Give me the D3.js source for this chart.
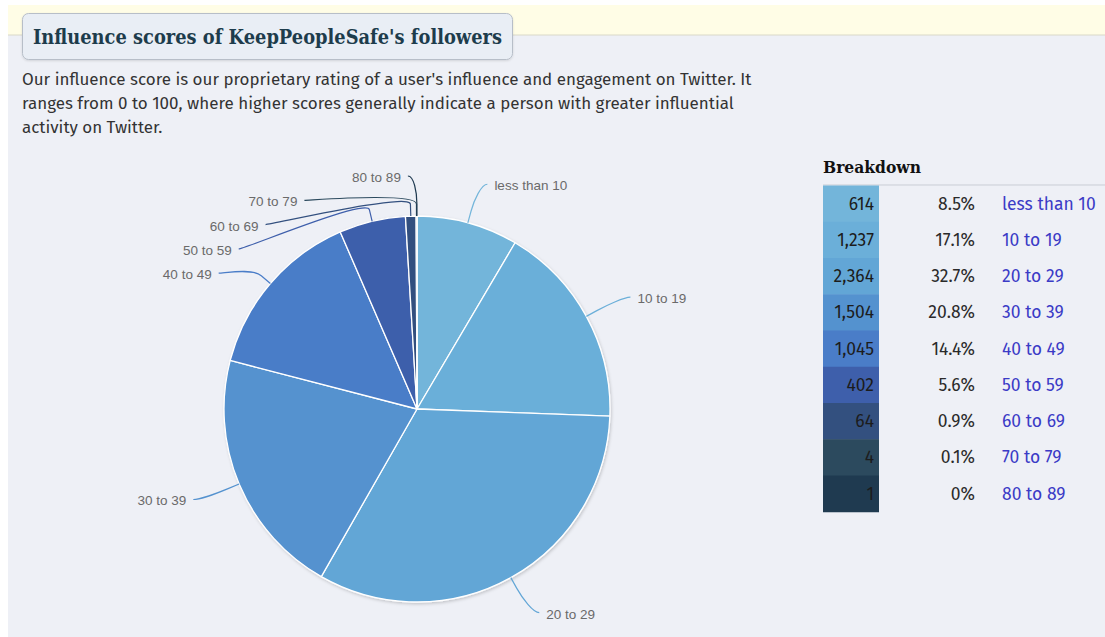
<!DOCTYPE html>
<html>
<head>
<meta charset="utf-8">
<script src="https://cdn.jsdelivr.net/npm/d3@7"></script>
<style>
  html, body { margin: 0; padding: 0; background: #ffffff; }
  svg { display: block; }
</style>
</head>
<body>
<svg id="chart" width="1105" height="637"></svg>
<script>
// ---- data ----
const categories = ["less than 10", "10 to 19", "20 to 29", "30 to 39", "40 to 49",
                    "50 to 59", "60 to 69", "70 to 79", "80 to 89"];
const followers = [614, 1237, 2364, 1504, 1045, 402, 64, 4, 1];
const sliceColors = ["#73b5da", "#6bafd9", "#62a6d6", "#5492cf", "#4a7dc8",
                     "#3e5fab", "#33507f", "#2c4a5e", "#1f3a50"];
const titleText = "Influence scores of KeepPeopleSafe's followers";
const descriptionLines = [
  "Our influence score is our proprietary rating of a user's influence and engagement on Twitter. It",
  "ranges from 0 to 100, where higher scores generally indicate a person with greater influential",
  "activity on Twitter."
];
const tableHeading = "Breakdown";

// ---- page frame ----
const svg = d3.select("#chart");
const W = 1105, H = 637;

const defs = svg.append("defs");
const shadow = defs.append("filter").attr("id", "pieShadow")
  .attr("x", "-10%").attr("y", "-10%").attr("width", "120%").attr("height", "120%");
shadow.append("feDropShadow").attr("dx", 1).attr("dy", 1.5)
  .attr("stdDeviation", 1.5).attr("flood-color", "#000").attr("flood-opacity", 0.18);
const boxShadow = defs.append("filter").attr("id", "boxShadow")
  .attr("x", "-5%").attr("y", "-20%").attr("width", "110%").attr("height", "140%");
boxShadow.append("feDropShadow").attr("dx", 0).attr("dy", 1)
  .attr("stdDeviation", 1).attr("flood-color", "#000").attr("flood-opacity", 0.12);

svg.append("rect").attr("x", 8).attr("y", 5).attr("width", W - 8).attr("height", 30)
  .attr("fill", "#fffde6");
svg.append("rect").attr("x", 8).attr("y", 35).attr("width", W - 8).attr("height", H - 35)
  .attr("fill", "#eef0f6");
svg.append("line").attr("x1", 8).attr("x2", W).attr("y1", 35).attr("y2", 35)
  .attr("stroke", "#d9d8c8").attr("stroke-width", 1);

// title box
svg.append("rect").attr("x", 22.5).attr("y", 13.5).attr("width", 490).attr("height", 46)
  .attr("rx", 6).attr("fill", "#e9eef5").attr("stroke", "#b7bec8")
  .attr("filter", "url(#boxShadow)");
svg.append("text").attr("x", 33).attr("y", 44)
  .attr("font-family", "'DejaVu Serif', serif").attr("font-weight", "bold")
  .attr("font-size", 19.5).attr("fill", "#1d3c4c")
  .attr("textLength", 469).attr("lengthAdjust", "spacingAndGlyphs")
  .text(titleText);

// description paragraph, sized so the first line spans the column
const desc = svg.append("g").attr("font-family", "'Fira Sans', Lato, 'Open Sans', sans-serif")
  .attr("fill", "#333");
const descText = desc.selectAll("text").data(descriptionLines).join("text")
  .attr("x", 22).attr("y", (d, i) => 84.5 + i * 24.2)
  .attr("font-size", 16).text(d => d);
const firstW = descText.node().getComputedTextLength();
descText.attr("font-size", 16 * 730 / firstW);

// ---- pie ----
const cx = 417, cy = 409, r = 193;
const labelR = 233, labelPad = 9, textGap = 7, lineGap = 24.3, connectorOffset = 12;

const pie = d3.pie().sort(null).value(d => d.value);
const arcs = pie(categories.map((c, i) => ({ name: c, value: followers[i], color: sliceColors[i] })));
const arc = d3.arc().innerRadius(0).outerRadius(r);

const pieG = svg.append("g").attr("transform", `translate(${cx},${cy})`);
pieG.append("g").attr("filter", "url(#pieShadow)")
  .selectAll("path").data(arcs).join("path")
  .attr("d", arc)
  .attr("fill", d => d.data.color)
  .attr("stroke", "#ffffff").attr("stroke-width", 1.3).attr("stroke-linejoin", "round");

// label placement: start at the natural position on a wider circle, then
// push labels apart vertically on each side so they do not overlap
const labels = arcs.map(a => {
  const mid = (a.startAngle + a.endAngle) / 2;
  return { a, mid, right: mid < Math.PI, y: cy - labelR * Math.cos(mid) };
});
["left", "right"].forEach(side => {
  const group = labels.filter(l => (side === "right") === l.right).sort((p, q) => p.y - q.y);
  let prev = -Infinity;
  group.forEach(l => {
    l.y = Math.max(l.y, prev + lineGap, cy - labelR);
    prev = l.y;
  });
});
labels.forEach(l => {
  const dy = Math.max(-labelR, Math.min(labelR, l.y - cy));
  const dx = Math.sqrt(labelR * labelR - dy * dy) + labelPad;
  l.x = cx + (l.right ? dx : -dx);
});

const pt = (angle, rad) => [cx + rad * Math.sin(angle), cy - rad * Math.cos(angle)];
const connG = svg.append("g").attr("fill", "none").attr("stroke-width", 1.2);
labels.forEach(l => {
  const e = pt(l.mid, r);
  const b = pt(l.mid, r + connectorOffset);
  const c2 = pt(l.mid, r + 2 * connectorOffset);
  const s = l.right ? -1 : 1;
  const p = d3.path();
  p.moveTo(l.x, l.y);
  p.bezierCurveTo(l.x + s * 6, l.y, c2[0], c2[1], b[0], b[1]);
  p.lineTo(e[0], e[1]);
  connG.append("path").attr("d", p.toString()).attr("stroke", l.a.data.color);
});

svg.append("g").attr("font-family", "'Liberation Sans', Arial, sans-serif")
  .attr("font-size", 13.5).attr("fill", "#6a6a6a")
  .selectAll("text").data(labels).join("text")
  .attr("x", l => l.x + (l.right ? textGap : -textGap))
  .attr("y", l => l.y + 6)
  .attr("text-anchor", l => l.right ? "start" : "end")
  .text(l => l.a.data.name);

// ---- breakdown table ----
const total = d3.sum(followers);
const pctText = v => {
  const p = Math.round(v / total * 1000) / 10;
  return (p === 0 ? "0" : p.toFixed(1)) + "%";
};
const tableX = 823, tableTop = 185.5;
const rowY = d3.scaleBand().domain(categories).range([tableTop, tableTop + 36.25 * categories.length]);

svg.append("text").attr("x", tableX).attr("y", 173)
  .attr("font-family", "'DejaVu Serif', serif").attr("font-weight", "bold")
  .attr("font-size", 16).attr("fill", "#111")
  .attr("textLength", 98).attr("lengthAdjust", "spacingAndGlyphs")
  .text(tableHeading);
svg.append("line").attr("x1", tableX).attr("x2", W).attr("y1", tableTop - 0.5).attr("y2", tableTop - 0.5)
  .attr("stroke", "#c9cdd5").attr("stroke-width", 1);

const rows = svg.append("g").attr("font-family", "'Fira Sans', Lato, 'Open Sans', sans-serif")
  .attr("font-size", 17.5)
  .selectAll("g").data(categories).join("g")
  .attr("transform", c => `translate(0,${rowY(c)})`);
rows.append("rect").attr("x", tableX).attr("width", 56).attr("height", rowY.bandwidth() + 0.5)
  .attr("fill", (c, i) => sliceColors[i]);
const fmt = d3.format(",");
rows.append("text").attr("x", 874).attr("y", rowY.bandwidth() / 2 + 6)
  .attr("text-anchor", "end").attr("fill", "#1c1c1c")
  .text((c, i) => fmt(followers[i]));
rows.append("text").attr("x", 975).attr("y", rowY.bandwidth() / 2 + 6)
  .attr("text-anchor", "end").attr("fill", "#2a2a2a")
  .text((c, i) => pctText(followers[i]));
rows.append("text").attr("x", 1002).attr("y", rowY.bandwidth() / 2 + 6)
  .attr("fill", "#3b3bc6")
  .text(c => c);
</script>
</body>
</html>
